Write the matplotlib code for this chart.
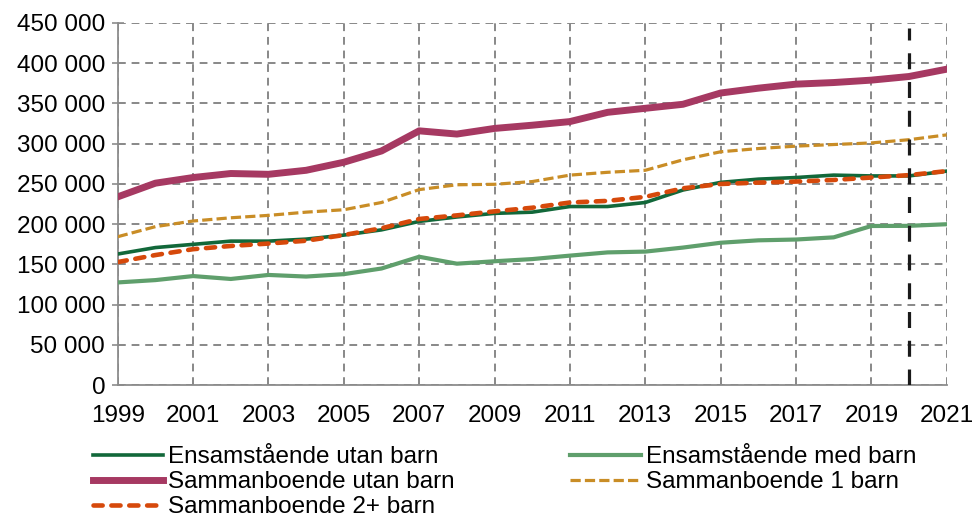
import matplotlib
matplotlib.use("Agg")
import matplotlib.pyplot as plt
from matplotlib.ticker import FuncFormatter

plt.rcParams['font.family'] = ['Liberation Sans', 'DejaVu Sans']

# data
years = list(range(1999, 2022))
ens_utan = [163000, 171000, 175000, 179000, 179000, 181500, 186500, 193000, 203500, 209000, 213500, 215000,
            222000, 222000, 227000, 242500, 252000, 256000, 258000, 261000, 260000, 260000, 266000]
ens_med = [127700, 130600, 135600, 132000, 137000, 135000, 138000, 145000, 159600, 151000, 154000, 156700,
           161000, 165000, 166000, 171000, 177000, 180000, 181000, 183700, 197800, 198000, 200000]
samm_utan = [234000, 251000, 258000, 263000, 262000, 267000, 277000, 291000, 316000, 312000, 319000, 323000,
             327500, 339000, 344000, 349000, 363000, 369000, 374000, 376000, 379000, 383500, 392600]
samm_1 = [184500, 197000, 204000, 208000, 211000, 215000, 218000, 227000, 243000, 249000, 249600, 253000,
          261000, 264500, 267000, 280000, 290000, 294000, 297000, 299000, 301000, 305000, 311000]
samm_2 = [153000, 161700, 169000, 173000, 176000, 179500, 186600, 195000, 206500, 211000, 216000, 220500,
          227000, 229000, 234000, 244600, 250000, 251700, 253000, 255000, 258000, 261000, 266000]
marker_year = 2020
x_ticks = list(range(1999, 2022, 2))
y_ticks = list(range(0, 450001, 50000))

fig = plt.figure(figsize=(9.73, 5.22), dpi=100)
ax = fig.add_axes([0.121, 0.262, 0.852, 0.694])

l1, = ax.plot(years, ens_utan, color='#12683a', lw=2.6, label='Ensamstående utan barn', zorder=4)
l2, = ax.plot(years, ens_med, color='#5f9f6c', lw=3.0, label='Ensamstående med barn', zorder=3)
l3, = ax.plot(years, samm_utan, color='#a63962', lw=5.0, label='Sammanboende utan barn', zorder=3)
l4, = ax.plot(years, samm_1, color='#c98d26', lw=2.3, ls=(0, (3.2, 1.3)), label='Sammanboende 1 barn', zorder=3)
l5, = ax.plot(years, samm_2, color='#d6490b', lw=3.3, ls=(0, (2.0, 1.9)), dash_capstyle='round',
              label='Sammanboende 2+ barn', zorder=5)

ax.axvline(marker_year, ymax=0.985, color='#1a1a1a', lw=2.3, ls=(0, (5, 4)), zorder=6)

ax.set_xlim(1999, 2021)
ax.set_ylim(0, 450000)
ax.set_xticks(x_ticks)
ax.set_yticks(y_ticks)
ax.yaxis.set_major_formatter(FuncFormatter(lambda v, p: f"{int(v):,}".replace(",", " ")))

ax.grid(True, color='#888888', ls=(0, (4, 3)), lw=1.4)
ax.set_axisbelow(True)
for s in ['top', 'right']:
    ax.spines[s].set_visible(False)
for s in ['left', 'bottom']:
    ax.spines[s].set_color('#8c8c8c')
    ax.spines[s].set_linewidth(1.3)
ax.tick_params(axis='y', direction='inout', length=8, color='#8c8c8c', width=1.2, labelsize=17.5, pad=5)
ax.tick_params(axis='x', length=0, labelsize=17.5, pad=14)

fig.legend([l1, l3, l5, l2, l4],
           [l.get_label() for l in [l1, l3, l5, l2, l4]],
           ncol=2, frameon=False, fontsize=17.5, loc='upper left', bbox_to_anchor=(0.083, 0.168),
           handlelength=2.9, handletextpad=0.2, columnspacing=4.75, labelspacing=0.12, borderpad=0)

fig.savefig('out.png', dpi=100)
